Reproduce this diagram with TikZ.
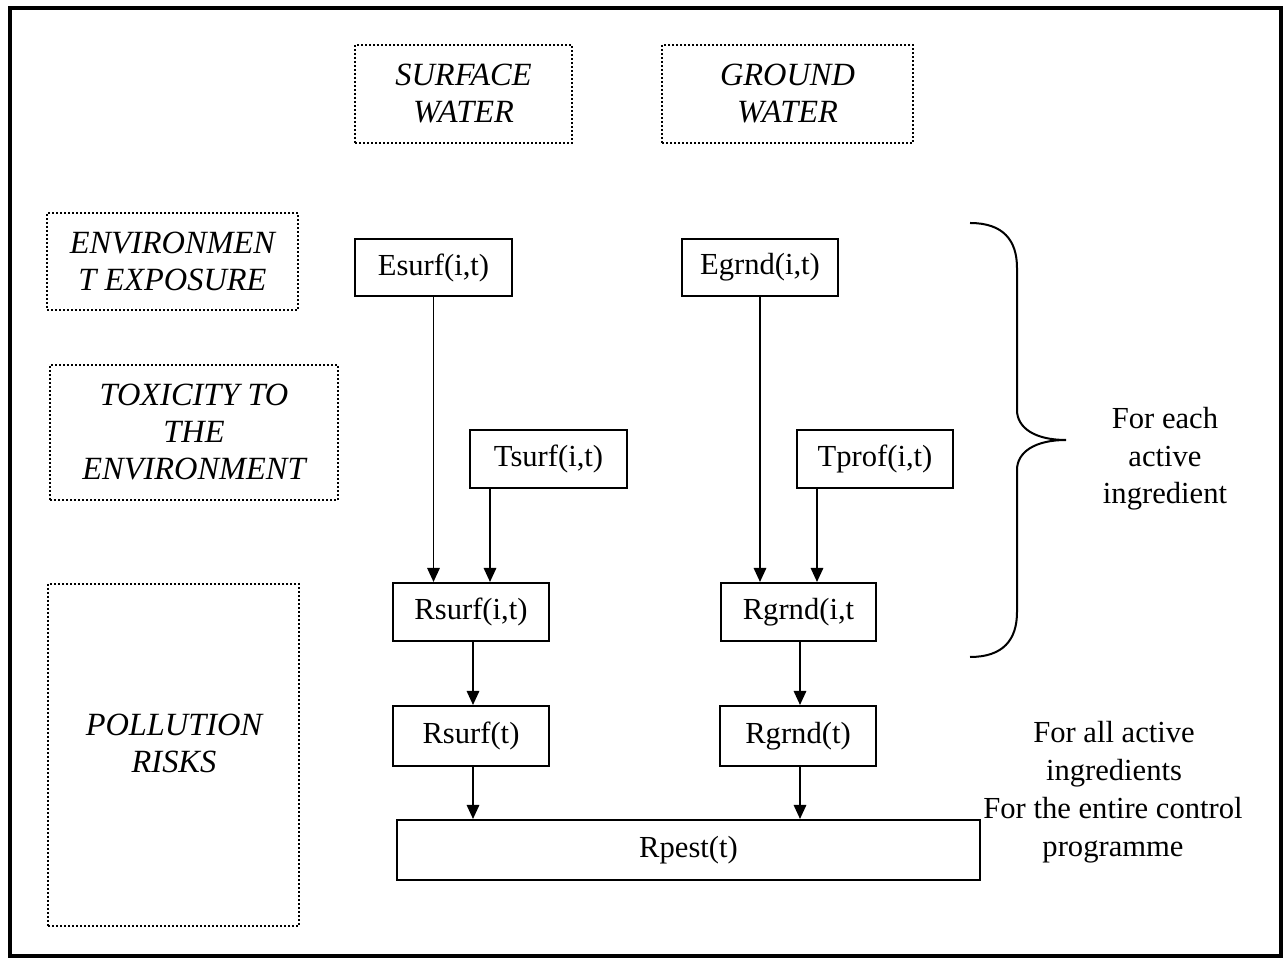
\documentclass[tikz,border=0pt]{standalone}
\usepackage{fontspec}
\setmainfont{Liberation Serif}
\usetikzlibrary{arrows.meta}
\begin{document}
\begin{tikzpicture}[x=0.5pt,y=-0.5pt,
  font=\fontsize{15.3}{18.7}\selectfont,
  sbox/.style={draw,line width=1pt,rectangle,inner sep=0pt,align=center},
  dbox/.style={draw,line width=0.9pt,dash pattern=on 1pt off 1pt,rectangle,inner sep=0pt,align=center,font=\fontsize{16.2}{18.5}\selectfont\itshape},
  arr/.style={line width=0.9pt,-{Triangle[length=7pt,width=6.2pt]}},
  lbl/.style={align=center,inner sep=0pt}]
\useasboundingbox (0,0) rectangle (1286,961);
\draw[line width=1.6pt] (10,8) rectangle (1281,956);
% dotted category boxes
\node[dbox,minimum width=108.5pt,minimum height=49pt] (sw) at (463.5,94) {SURFACE\\WATER};
\node[dbox,minimum width=125.5pt,minimum height=49pt] (gw) at (787.5,94) {GROUND\\WATER};
\node[dbox,minimum width=125.5pt,minimum height=48.5pt] (ee) at (172.5,261.5) {ENVIRONMEN\\T EXPOSURE};
\node[dbox,minimum width=144pt,minimum height=67.5pt] (te) at (194,432.5) {TOXICITY TO\\THE\\ENVIRONMENT};
\node[dbox,minimum width=125.5pt,minimum height=171pt] (pr) at (173.5,755) {};
\node[lbl,font=\fontsize{16.2}{18.5}\selectfont\itshape] (prt) at (174,743) {POLLUTION\\RISKS};
% solid boxes
\node[sbox,minimum width=78.5pt,minimum height=28.5pt] (Es) at (433.5,267.5) {Esurf(i,t)};
\node[sbox,minimum width=78pt,minimum height=28.5pt] (Eg) at (760,267.5) {Egrnd(i,t)};
\node[sbox,minimum width=78.5pt,minimum height=29pt] (Ts) at (548.5,459) {Tsurf(i,t)};
\node[sbox,minimum width=78pt,minimum height=29pt] (Tp) at (875,459) {Tprof(i,t)};
\node[sbox,minimum width=78pt,minimum height=29pt] (Rs) at (471,612) {Rsurf(i,t)};
\node[sbox,minimum width=77.5pt,minimum height=29pt] (Rg) at (798.5,612) {Rgrnd(i,t};
\node[sbox,minimum width=78pt,minimum height=30pt] (Rst) at (471,736) {Rsurf(t)};
\node[sbox,minimum width=78pt,minimum height=30pt] (Rgt) at (798,736) {Rgrnd(t)};
\node[sbox,minimum width=291.5pt,minimum height=30pt] (Rp) at (688.5,850) {Rpest(t)};
% connectors
\draw[arr] (Es.south) -- (Es.south |- Rs.north);
\draw[arr] (490,0 |- Ts.south) -- (490,0 |- Rs.north);
\draw[arr] (Eg.south) -- (Eg.south |- Rg.north);
\draw[arr] (817,0 |- Tp.south) -- (817,0 |- Rg.north);
\draw[arr] (473,0 |- Rs.south) -- (473,0 |- Rst.north);
\draw[arr] (800,0 |- Rg.south) -- (800,0 |- Rgt.north);
\draw[arr] (473,0 |- Rst.south) -- (473,0 |- Rp.north);
\draw[arr] (800,0 |- Rgt.south) -- (800,0 |- Rp.north);
% brace
\draw[line width=1pt] (970,223) .. controls (1003,223) and (1017,240) .. (1017,268)
  -- (1017,410) .. controls (1017,428) and (1035,440) .. (1066,440)
  .. controls (1035,440) and (1017,452) .. (1017,470)
  -- (1017,612) .. controls (1017,640) and (1003,657) .. (970,657);
% side labels
\node[lbl] (each) at (1165,459) {For each\\active\\ingredient};
\node[lbl] (all) at (1114,754) {For all active\\ingredients};
\node[lbl] (entire) at (1113,830) {For the entire control\\programme};
\end{tikzpicture}
\end{document}
